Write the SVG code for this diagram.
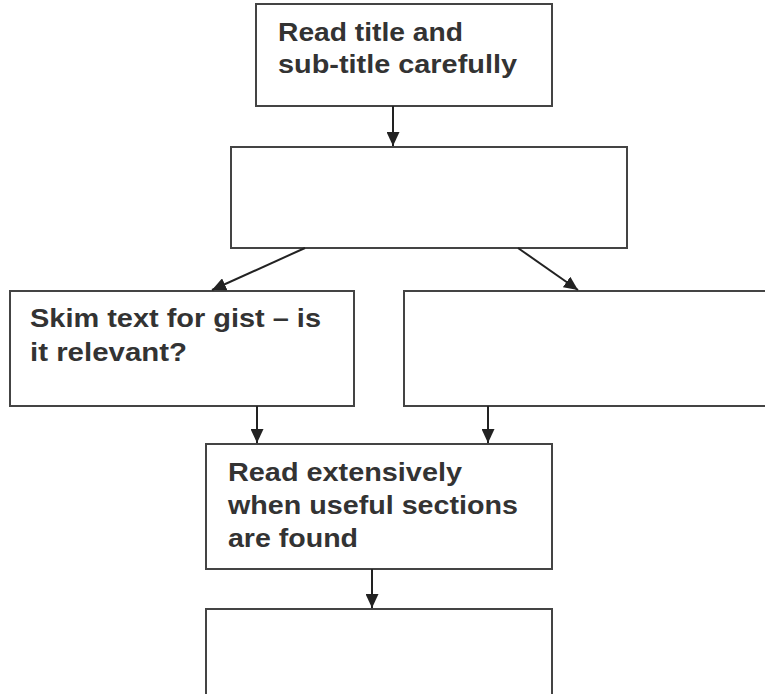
<svg xmlns="http://www.w3.org/2000/svg" width="765" height="694" viewBox="0 0 765 694">
<style>
.box{fill:#fff;stroke:#444;stroke-width:2}
.t{font-family:"Liberation Sans",Arial,sans-serif;font-weight:bold;font-size:25px;fill:#333}
.c{stroke:#222;stroke-width:2;fill:none}
</style>
<defs>
<marker id="ah" viewBox="0 0 14 13" refX="14" refY="6.5" markerWidth="14" markerHeight="13" markerUnits="userSpaceOnUse" orient="auto">
<path d="M0,0 L14,6.5 L0,13 z" fill="#222"/>
</marker>
</defs>
<rect width="765" height="694" fill="#fff"/>
<g id="n1">
<rect class="box" x="256" y="4" width="296" height="102"/>
<text class="t" x="278" y="41" textLength="185" lengthAdjust="spacingAndGlyphs">Read title and</text>
<text class="t" x="278" y="73" textLength="239" lengthAdjust="spacingAndGlyphs">sub-title carefully</text>
</g>
<g id="n2">
<rect class="box" x="231" y="147" width="396" height="101"/>
</g>
<g id="n3">
<rect class="box" x="10" y="291" width="344" height="115"/>
<text class="t" x="30" y="327" textLength="291" lengthAdjust="spacingAndGlyphs">Skim text for gist – is</text>
<text class="t" x="30" y="361" textLength="157" lengthAdjust="spacingAndGlyphs">it relevant?</text>
</g>
<g id="n4">
<rect class="box" x="404" y="291" width="370" height="115"/>
</g>
<g id="n5">
<rect class="box" x="206" y="444" width="346" height="125"/>
<text class="t" x="228" y="481" textLength="234" lengthAdjust="spacingAndGlyphs">Read extensively</text>
<text class="t" x="228" y="514" textLength="290" lengthAdjust="spacingAndGlyphs">when useful sections</text>
<text class="t" x="228" y="547" textLength="130" lengthAdjust="spacingAndGlyphs">are found</text>
</g>
<g id="n6">
<rect class="box" x="206" y="609" width="346" height="100"/>
</g>
<g id="connectors">
<line class="c" x1="393" y1="106" x2="393" y2="146" marker-end="url(#ah)"/>
<line class="c" x1="305" y1="248" x2="212" y2="290" marker-end="url(#ah)"/>
<line class="c" x1="518" y1="248" x2="578" y2="290" marker-end="url(#ah)"/>
<line class="c" x1="257" y1="406" x2="257" y2="443" marker-end="url(#ah)"/>
<line class="c" x1="488" y1="406" x2="488" y2="443" marker-end="url(#ah)"/>
<line class="c" x1="372" y1="569" x2="372" y2="608" marker-end="url(#ah)"/>
</g>
</svg>
